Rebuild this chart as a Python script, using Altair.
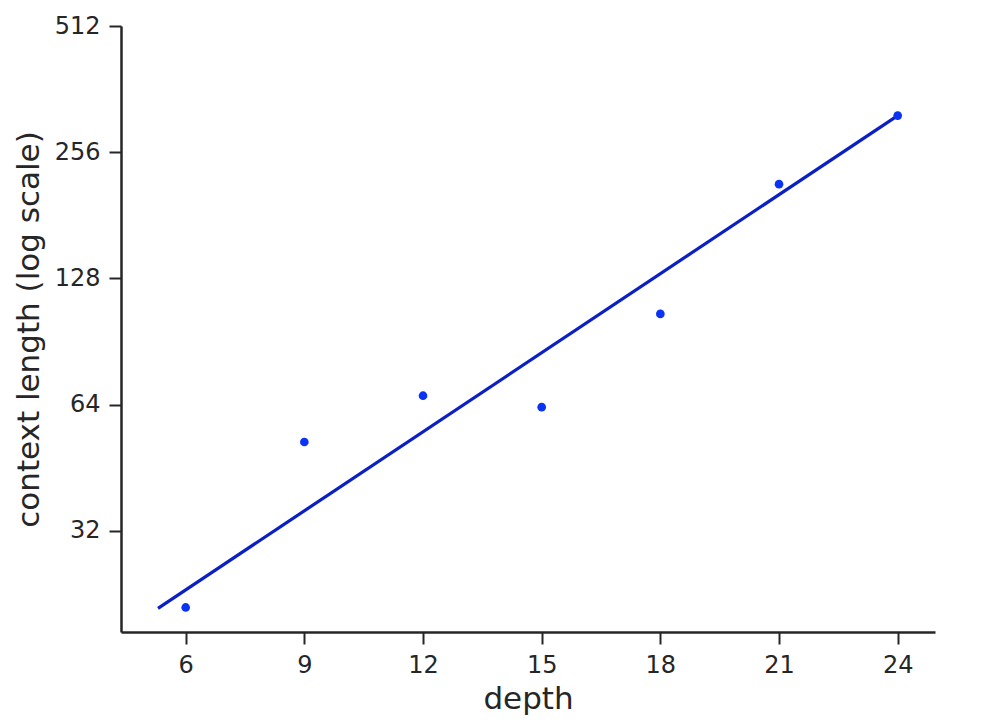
import altair as alt
import pandas as pd

# measured points: depth vs context length (log2 axis)
depth = [6, 9, 12, 15, 18, 21, 24]
context_length = [21.0, 52.1, 67.2, 63.1, 105.3, 214.8, 313.0]

# fitted line
fit_depth = [5.3, 24.0]
fit_length = [20.9, 313.0]

x_ticks = [6, 9, 12, 15, 18, 21, 24]
y_ticks = [32, 64, 128, 256, 512]

points_df = pd.DataFrame({"depth": depth, "context_length": context_length})
fit_df = pd.DataFrame({"depth": fit_depth, "context_length": fit_length})

FONT = "DejaVu Sans"
INK = "#262626"

x_enc = alt.X(
    "depth:Q",
    title="depth",
    scale=alt.Scale(domain=[4.365, 24.943], nice=False, zero=False),
    axis=alt.Axis(values=x_ticks, format="d", grid=False),
)
y_enc = alt.Y(
    "context_length:Q",
    title="context length (log scale)",
    scale=alt.Scale(type="log", base=2, domain=[18.35, 512], nice=False),
    axis=alt.Axis(values=y_ticks, format="d", grid=False),
)

fit_line = alt.Chart(fit_df).mark_line(color="#0b20c4", strokeWidth=3.2).encode(
    x=x_enc, y=y_enc
)

dots = alt.Chart(points_df).mark_circle(color="#0a33f5", opacity=1, size=75).encode(
    x="depth:Q", y="context_length:Q"
)

chart = (
    alt.layer(fit_line, dots)
    .properties(
        width=814,
        height=606,
        autosize=alt.AutoSizeParams(type="none"),
        padding={"left": 113, "top": 18, "right": 40, "bottom": 86},
    )
    .configure_view(stroke=None)
    .configure_axis(
        labelFont=FONT,
        titleFont=FONT,
        labelFontSize=24,
        titleFontSize=31,
        labelColor=INK,
        titleColor=INK,
        titleFontWeight="normal",
        domainColor=INK,
        domainWidth=2.5,
        tickColor=INK,
        tickWidth=2,
        tickSize=12,
        labelPadding=9,
    )
    .configure_axisX(titlePadding=7)
    .configure_axisY(titlePadding=9)
)

chart.save("out.html", embed_options={"renderer": "svg", "actions": False})
